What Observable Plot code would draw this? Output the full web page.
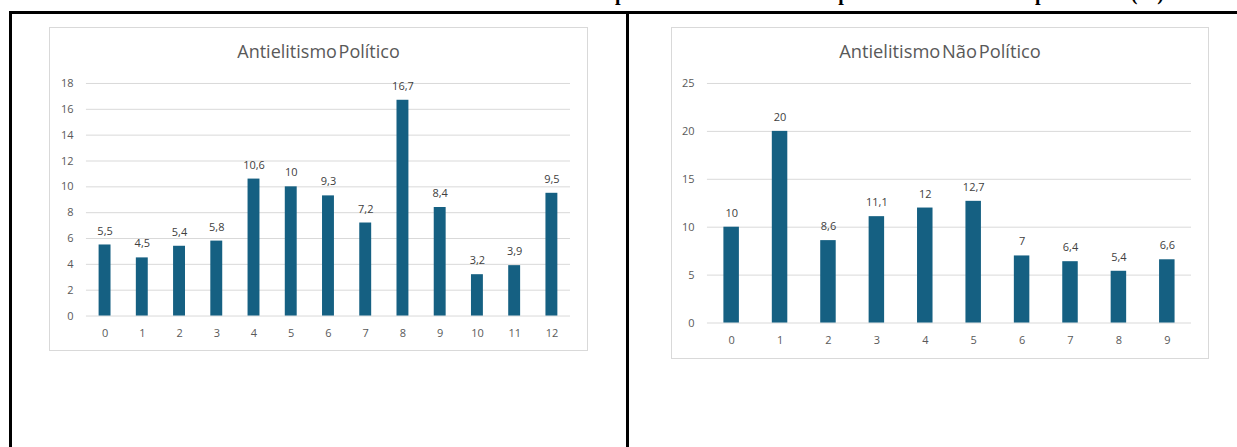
<!DOCTYPE html>
<html>
<head>
<meta charset="utf-8">
<script src="https://cdn.jsdelivr.net/npm/d3@7"></script>
<script src="https://cdn.jsdelivr.net/npm/@observablehq/plot@0.6"></script>
<style>
  html, body { margin: 0; padding: 0; background: #fff; }
  body { width: 1237px; height: 447px; overflow: hidden; position: relative; font-family: "Open Sans", sans-serif; }
  .abs { position: absolute; }
  .heading { position: absolute; left: -300px; width: 1464px; top: -17px; line-height: 20px; text-align: right;
             font-family: "Liberation Serif", "Times New Roman", serif; font-weight: bold; font-size: 20px; color: #000; white-space: nowrap; }
  .hline { left: 9px; right: 0; top: 11px; height: 3px; background: #000; }
  .vline { top: 11px; bottom: 0; width: 3px; background: #000; }
  .box { border: 1px solid #d9d9d9; box-sizing: border-box; background: #fff; }
  .title { position: absolute; left: 0; right: 0; text-align: center; top: 11px; line-height: 24px;
           font-size: 18px; color: #595959; word-spacing: -3px; white-space: nowrap; }
  .chart { position: absolute; }
</style>
</head>
<body>
<div class="heading">Gráfico 2 – Antielitismo político e antielitismo não político nas escalas em percentual (%)</div>
<div class="abs hline"></div>
<div class="abs vline" style="left:9px"></div>
<div class="abs vline" style="left:626px"></div>

<div id="box1" class="abs box" style="left:49px; top:27px; width:539px; height:324px;">
  <div class="title">Antielitismo Político</div>
</div>
<div id="box2" class="abs box" style="left:671px; top:27px; width:538px; height:332px;">
  <div class="title" style="font-size:18.3px">Antielitismo Não Político</div>
</div>

<script>
// ---- data ----
const categoriesPolitico = ["0","1","2","3","4","5","6","7","8","9","10","11","12"];
const valuesPolitico = [5.5, 4.5, 5.4, 5.8, 10.6, 10, 9.3, 7.2, 16.7, 8.4, 3.2, 3.9, 9.5];
const yTicksPolitico = [0, 2, 4, 6, 8, 10, 12, 14, 16, 18];

const categoriesNaoPolitico = ["0","1","2","3","4","5","6","7","8","9"];
const valuesNaoPolitico = [10, 20, 8.6, 11.1, 12, 12.7, 7, 6.4, 5.4, 6.6];
const yTicksNaoPolitico = [0, 5, 10, 15, 20, 25];

const fmt = v => String(v).replace(".", ",");

function makeChart(cats, vals, ticks, opts) {
  const data = cats.map((c, i) => ({c, v: vals[i]}));
  return Plot.plot({
    width: opts.width,
    height: opts.height,
    marginTop: opts.marginTop,
    marginBottom: opts.marginBottom,
    marginLeft: opts.marginLeft,
    marginRight: opts.marginRight,
    style: {fontFamily: '"Open Sans", sans-serif', fontSize: "11px", color: "#595959", background: "transparent", overflow: "visible"},
    x: {domain: cats, paddingInner: 0.68, paddingOuter: 0.34, round: false, label: null, tickSize: 0, tickPadding: 13},
    y: {domain: [0, ticks[ticks.length - 1]], ticks: ticks, label: null, tickSize: 0, tickPadding: 13},
    marks: [
      Plot.ruleY(ticks, {stroke: "#d9d9d9", strokeWidth: 1}),
      Plot.barY(data, {x: "c", y: "v", fill: "#156082"}),
      Plot.text(data, {x: "c", y: "v", text: d => fmt(d.v), dy: -14, fill: "#404040", fontSize: 11})
    ]
  });
}

const c1 = makeChart(categoriesPolitico, valuesPolitico, yTicksPolitico,
  {width: 538, height: 280, marginTop: 13, marginBottom: 34, marginLeft: 37, marginRight: 16});
c1.classList.add("chart");
c1.style.left = "-1px"; c1.style.top = "42px";
document.getElementById("box1").appendChild(c1);

const c2 = makeChart(categoriesNaoPolitico, valuesNaoPolitico, yTicksNaoPolitico,
  {width: 537, height: 288, marginTop: 13, marginBottom: 35, marginLeft: 36, marginRight: 16});
c2.classList.add("chart");
c2.style.left = "-1px"; c2.style.top = "42px";
document.getElementById("box2").appendChild(c2);
</script>
</body>
</html>
